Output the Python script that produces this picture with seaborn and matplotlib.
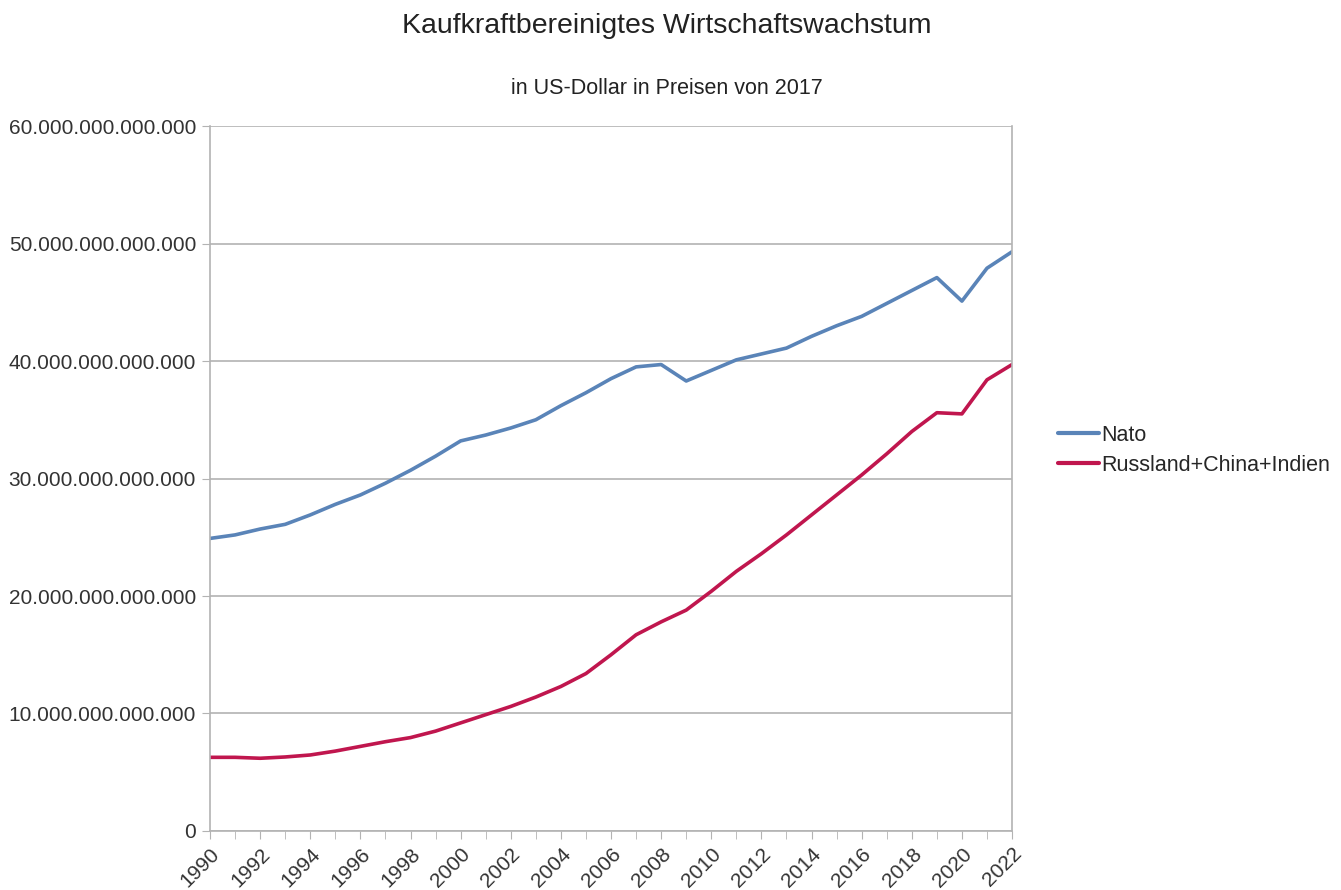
"""Kaufkraftbereinigtes Wirtschaftswachstum: Nato vs. Russland+China+Indien."""
import pandas as pd
import matplotlib
matplotlib.use("Agg")
import matplotlib.pyplot as plt
from matplotlib.ticker import FuncFormatter, MultipleLocator
import seaborn as sns

years = list(range(1990, 2023))

# BIP in Billionen US-Dollar (Preise von 2017)
nato = [24.9, 25.2, 25.7, 26.1, 26.9, 27.8, 28.6, 29.6, 30.7, 31.9,
        33.2, 33.7, 34.3, 35.0, 36.2, 37.3, 38.5, 39.5, 39.7, 38.3,
        39.2, 40.1, 40.6, 41.1, 42.1, 43.0, 43.8, 44.9, 46.0, 47.1,
        45.1, 47.9, 49.3]
rci = [6.27, 6.27, 6.19, 6.3, 6.47, 6.8, 7.2, 7.6, 7.95, 8.5,
       9.2, 9.9, 10.6, 11.4, 12.3, 13.4, 15.0, 16.7, 17.8, 18.8,
       20.4, 22.1, 23.6, 25.2, 26.9, 28.6, 30.3, 32.1, 34.0, 35.6,
       35.5, 38.4, 39.7]

series_names = ["Nato", "Russland+China+Indien"]
colors = ["#5a84b8", "#c0164e"]

df = pd.DataFrame({
    "Jahr": years * 2,
    "Wert": [v * 1e12 for v in nato + rci],
    "Reihe": [series_names[0]] * len(years) + [series_names[1]] * len(years),
})

sns.set_style("white")
plt.rcParams["font.family"] = ["Liberation Sans", "DejaVu Sans"]

fig = plt.figure(figsize=(13.41, 8.90), dpi=100)
ax = fig.add_axes([0.1566, 0.0663, 0.5981, 0.7921])

sns.lineplot(data=df, x="Jahr", y="Wert", hue="Reihe",
             palette=dict(zip(series_names, colors)), linewidth=2.6, ax=ax)

ax.set_xlim(1990, 2022)
ax.set_ylim(0, 60e12)
ax.yaxis.set_major_locator(MultipleLocator(10e12))
ax.yaxis.set_major_formatter(FuncFormatter(lambda v, p: f"{int(round(v)):,}".replace(",", ".")))
ax.xaxis.set_major_locator(MultipleLocator(2))
ax.xaxis.set_minor_locator(MultipleLocator(1))
ax.set_xlabel("")
ax.set_ylabel("")

ax.grid(axis="y", color="#b3b3b3", linewidth=1.2)
ax.set_axisbelow(True)
ax.spines["top"].set_visible(False)
for side in ["left", "bottom", "right"]:
    ax.spines[side].set_color("#b3b3b3")
    ax.spines[side].set_linewidth(1.2)

ax.tick_params(axis="y", which="major", left=True, length=6, color="#b3b3b3",
               labelsize=15, labelcolor="#333333", pad=4)
ax.tick_params(axis="x", which="both", bottom=True, length=6, color="#b3b3b3")
ax.tick_params(axis="x", which="major", labelsize=15, labelcolor="#333333")
plt.setp(ax.get_xticklabels(), rotation=45, ha="right", rotation_mode="anchor")

fig.text(0.4975, 0.971, "Kaufkraftbereinigtes Wirtschaftswachstum", ha="center", va="center",
         fontsize=20.5, color="#222222")
fig.text(0.4975, 0.901, "in US-Dollar in Preisen von 2017", ha="center", va="center",
         fontsize=15.5, color="#222222")

leg = ax.legend(loc="center left", bbox_to_anchor=(1.033, 0.54), frameon=False,
                fontsize=15.5, handlelength=1.9, handletextpad=0.1, labelspacing=0.4)
for line in leg.get_lines():
    line.set_linewidth(3)

fig.savefig("out.png", dpi=100)
plt.close(fig)
